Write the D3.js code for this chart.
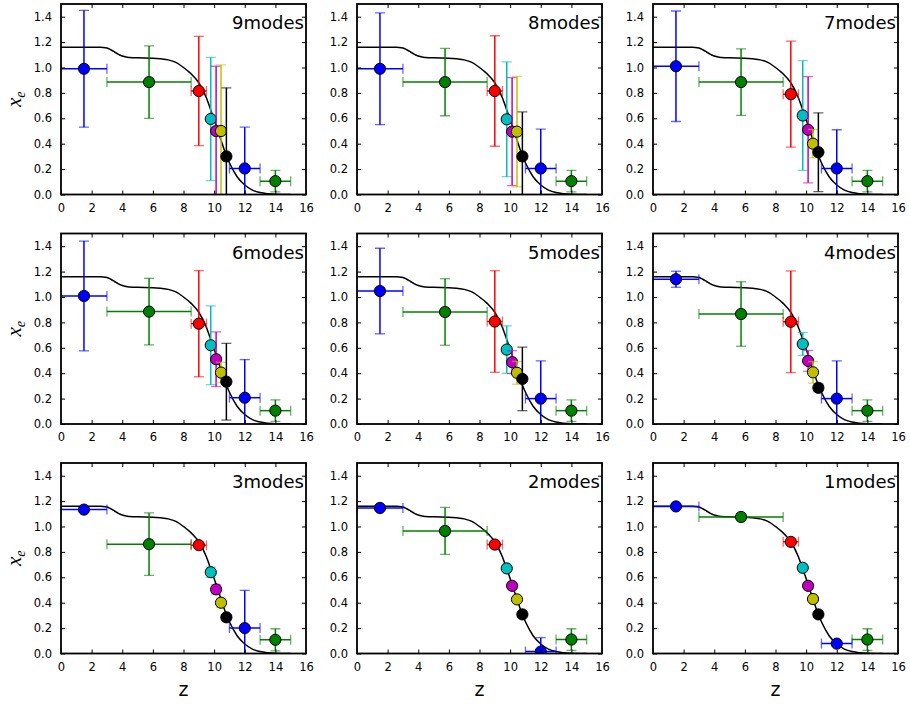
<!DOCTYPE html>
<html>
<head>
<meta charset="utf-8">
<script src="https://cdnjs.cloudflare.com/ajax/libs/d3/7.8.5/d3.min.js"></script>
<style>
    body { margin: 0; background: #fff; }
    svg { display: block; font-family: "DejaVu Sans", sans-serif; }
</style>
</head>
<body>
<div id="chart"></div>
<script>
// Panel titles (number of modes)
var modes = ["9modes", "8modes", "7modes", "6modes", "5modes", "4modes", "3modes", "2modes", "1modes"];

// Redshift bins shared by every panel
var binZ = [1.5, 5.75, 9.0, 9.78, 10.13, 10.45, 10.8, 12.0, 14.0];
var binHalfWidth = [1.5, 2.75, 0.5, 0.15, 0.15, 0.15, 0.15, 1.0, 1.0];
var binColors = ["#0000ff", "#008000", "#ff0000", "#00bfbf", "#bf00bf", "#bfbf00", "#000000", "#0000ff", "#008000"];

// Reconstructed x_e per bin, one row per panel
var xeValues = [
    [0.99, 0.885, 0.815, 0.595, 0.50, 0.50, 0.30, 0.205, 0.105],
    [0.99, 0.885, 0.815, 0.592, 0.495, 0.495, 0.30, 0.205, 0.105],
    [1.01, 0.885, 0.79, 0.622, 0.51, 0.40, 0.333, 0.205, 0.105],
    [1.008, 0.885, 0.79, 0.62, 0.51, 0.405, 0.333, 0.207, 0.105],
    [1.047, 0.882, 0.807, 0.586, 0.487, 0.403, 0.355, 0.20, 0.105],
    [1.14, 0.866, 0.805, 0.63, 0.497, 0.407, 0.285, 0.20, 0.105],
    [1.133, 0.861, 0.853, 0.64, 0.505, 0.40, 0.285, 0.20, 0.108],
    [1.146, 0.965, 0.858, 0.67, 0.533, 0.426, 0.308, 0.015, 0.11],
    [1.158, 1.075, 0.879, 0.675, 0.533, 0.429, 0.308, 0.078, 0.11]
];

// Symmetric 1-sigma errors on x_e, one row per panel
var xeErrors = [
    [0.46, 0.285, 0.43, 0.485, 0.51, 0.52, 0.54, 0.325, 0.085],
    [0.44, 0.265, 0.435, 0.452, 0.425, 0.435, 0.35, 0.31, 0.085],
    [0.435, 0.262, 0.417, 0.432, 0.418, 0.112, 0.31, 0.305, 0.085],
    [0.432, 0.262, 0.418, 0.31, 0.215, 0.08, 0.302, 0.30, 0.085],
    [0.337, 0.262, 0.40, 0.187, 0.09, 0.09, 0.25, 0.297, 0.085],
    [0.063, 0.254, 0.40, 0.09, 0.082, 0.085, 0.03, 0.297, 0.085],
    [0.02, 0.246, 0.02, 0.04, 0.035, 0.035, 0.02, 0.297, 0.087],
    [0.015, 0.185, 0.025, 0.01, 0.01, 0.01, 0.01, 0.11, 0.085],
    [0.005, 0.005, 0.01, 0.005, 0.005, 0.005, 0.005, 0.005, 0.085]
];

// Fiducial reionization history
var curveZ = [0, 1, 2, 2.5, 2.75, 3, 3.25, 3.5, 3.75, 4, 4.25, 4.5, 5, 6, 6.5, 7, 7.5, 8, 8.5, 9, 9.5, 9.75, 10, 10.25, 10.5, 10.75, 11, 11.5, 12, 12.5, 13, 13.5, 14, 14.5, 15];
var curveXe = [1.16, 1.16, 1.16, 1.159, 1.158, 1.154, 1.14, 1.122, 1.103, 1.09, 1.082, 1.079, 1.076, 1.073, 1.068, 1.06, 1.04, 1.0, 0.95, 0.88, 0.76, 0.675, 0.59, 0.50, 0.41, 0.32, 0.25, 0.14, 0.075, 0.035, 0.015, 0.006, 0.002, 0.0005, 0];

var xTicks = [0, 2, 4, 6, 8, 10, 12, 14, 16];
var yTicks = [0, 0.2, 0.4, 0.6, 0.8, 1.0, 1.2, 1.4];

// Grid layout
var width = 910, height = 704;
var colX = [61, 357, 653];
var rowY = [4, 233.5, 463];
var pw = 245, ph = 190.5;

var svg = d3.select("#chart").append("svg")
    .attr("width", width)
    .attr("height", height);

var x = d3.scaleLinear().domain([0, 16]).range([0, pw]);
var y = d3.scaleLinear().domain([0, 1.5]).range([ph, 0]);

var line = d3.line()
    .x(function (d, i) { return x(curveZ[i]); })
    .y(function (d) { return y(d); })
    .curve(d3.curveMonotoneX);

modes.forEach(function (title, p) {
    var row = Math.floor(p / 3), col = p % 3;
    var g = svg.append("g")
        .attr("transform", "translate(" + colX[col] + "," + rowY[row] + ")");

    // clip everything to the axes box
    g.append("clipPath").attr("id", "clip" + p)
        .append("rect").attr("width", pw).attr("height", ph);
    var plot = g.append("g").attr("clip-path", "url(#clip" + p + ")");

    // model curve
    plot.append("path")
        .attr("d", line(curveXe))
        .attr("fill", "none")
        .attr("stroke", "#000")
        .attr("stroke-width", 1.5);

    // error bars + markers, one bin at a time
    binZ.forEach(function (z, i) {
        var c = binColors[i];
        var v = xeValues[p][i], e = xeErrors[p][i];
        var hw = binHalfWidth[i];
        var pt = plot.append("g");
        var cap = 5;

        // vertical bar
        pt.append("line")
            .attr("x1", x(z)).attr("x2", x(z))
            .attr("y1", y(v - e)).attr("y2", y(v + e))
            .attr("stroke", c).attr("stroke-width", 1.5);
        // horizontal bar
        pt.append("line")
            .attr("x1", x(z - hw)).attr("x2", x(z + hw))
            .attr("y1", y(v)).attr("y2", y(v))
            .attr("stroke", c).attr("stroke-width", 1.5);
        // caps
        [v - e, v + e].forEach(function (yy) {
            pt.append("line")
                .attr("x1", x(z) - cap).attr("x2", x(z) + cap)
                .attr("y1", y(yy)).attr("y2", y(yy))
                .attr("stroke", c).attr("stroke-opacity", 0.6).attr("stroke-width", 1.3);
        });
        [z - hw, z + hw].forEach(function (xx) {
            pt.append("line")
                .attr("x1", x(xx)).attr("x2", x(xx))
                .attr("y1", y(v) - cap).attr("y2", y(v) + cap)
                .attr("stroke", c).attr("stroke-opacity", 0.6).attr("stroke-width", 1.3);
        });
        // marker
        pt.append("circle")
            .attr("cx", x(z)).attr("cy", y(v))
            .attr("r", 5.6)
            .attr("fill", c)
            .attr("stroke", "#000")
            .attr("stroke-width", 1);
    });

    // axes with inward ticks on all four sides
    g.append("g")
        .attr("transform", "translate(0," + ph + ")")
        .call(d3.axisBottom(x).tickValues(xTicks).tickSize(-4).tickPadding(9).tickFormat(d3.format("d")));
    g.append("g")
        .call(d3.axisLeft(y).tickValues(yTicks).tickSize(-4).tickPadding(9).tickFormat(d3.format(".1f")));
    g.append("g")
        .call(d3.axisTop(x).tickValues(xTicks).tickSize(-4).tickFormat(""));
    g.append("g")
        .attr("transform", "translate(" + pw + ",0)")
        .call(d3.axisRight(y).tickValues(yTicks).tickSize(-4).tickFormat(""));

    g.selectAll(".domain").remove();
    g.selectAll(".tick line").attr("stroke", "#000").attr("stroke-width", 1);
    g.selectAll(".tick text")
        .attr("fill", "#000")
        .style("font-family", "'DejaVu Sans', sans-serif")
        .style("font-size", "11.5px");

    // frame
    g.append("rect")
        .attr("width", pw).attr("height", ph)
        .attr("fill", "none")
        .attr("stroke", "#000")
        .attr("stroke-width", 1.8);

    // panel title
    g.append("text")
        .attr("x", pw - 2)
        .attr("y", 25)
        .attr("text-anchor", "end")
        .style("font-size", "18px")
        .text(title);

    // x label on the bottom row
    if (row === 2) {
        g.append("text")
            .attr("x", pw / 2)
            .attr("y", ph + 42)
            .attr("text-anchor", "middle")
            .style("font-size", "19px")
            .text("z");
    }

    // y label on the left column
    if (col === 0) {
        var lab = g.append("text")
            .attr("transform", "translate(" + (21 - colX[0]) + "," + (ph / 2) + ") rotate(-90)")
            .attr("text-anchor", "middle")
            .style("font-family", "'Liberation Serif', serif")
            .style("font-style", "italic");
        lab.append("tspan").style("font-size", "21px").text("x");
        lab.append("tspan").style("font-size", "14px").attr("dy", 4).text("e");
    }
});
</script>
</body>
</html>
